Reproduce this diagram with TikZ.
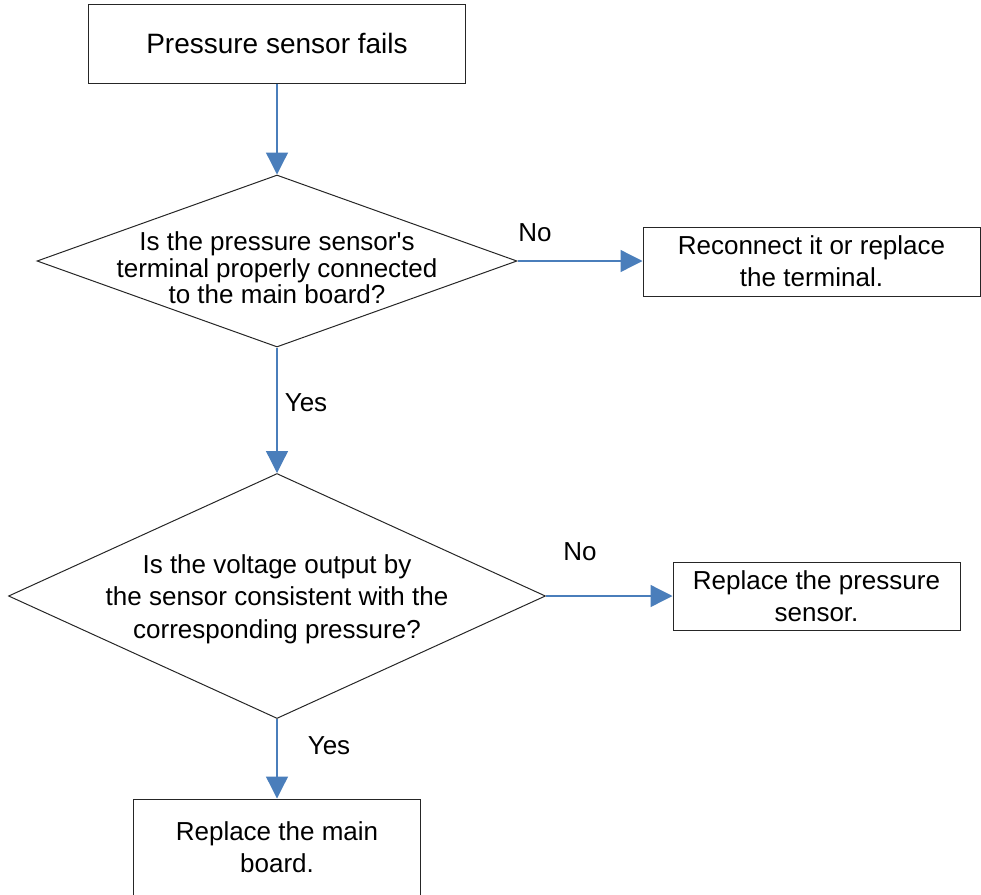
\documentclass[tikz,border=0pt]{standalone}
\usepackage{fontspec}
\setmainfont{Liberation Sans}
\usetikzlibrary{arrows.meta,shapes.geometric}
\definecolor{flowblue}{RGB}{74,126,187}

\begin{document}
\begin{tikzpicture}[x=1pt,y=-1pt,>={Triangle[length=22pt,width=22pt]},box/.style={draw=black!85, line width=1pt, align=center, inner sep=0pt, font=\fontsize{26}{32}\selectfont},decision/.style={diamond, draw=black!85, line width=1pt, inner sep=0pt},qtext/.style={align=center, inner sep=0pt},flow/.style={->, draw=flowblue, line width=1.3pt},answer/.style={font=\fontsize{26}{30}\selectfont, inner sep=0pt}]
\useasboundingbox (0,0) rectangle (981,894);
\node[box, minimum width=377, minimum height=79, font=\fontsize{28}{34}\selectfont] (start) at (277,43.5) {Pressure sensor fails};
\node[decision, minimum width=480, minimum height=172, label={[qtext, font=\fontsize{26}{26.5}\selectfont, yshift=-7pt]center:{Is the pressure sensor\textquotesingle s\\terminal properly connected\\to the main board?}}] (q1) at (277,261) {};
\node[box, minimum width=337, minimum height=69] (fix1) at (811.5,261.5) {Reconnect it or replace\\the terminal.};
\node[decision, minimum width=537, minimum height=245, label={[qtext, font=\fontsize{26}{32.5}\selectfont, yshift=-3pt]center:{Is the voltage output by\\the sensor consistent with the\\corresponding pressure?}}] (q2) at (277,596) {};
\node[box, minimum width=287, minimum height=68] (fix2) at (816.5,596) {Replace the pressure\\sensor.};
\node[box, minimum width=287, minimum height=97] (fix3) at (277,847.5) {Replace the main\\board.};
% answers on the branches
\node[answer] (no1) at (535,233) {No};\node[answer] (yes1) at (306,403) {Yes};
\node[answer] (no2) at (580,552) {No};\node[answer] (yes2) at (329,746) {Yes};
\draw[flow] (start) -- (q1);\draw[flow] (q1.east) -- (fix1.west |- q1.east);
\draw[flow] (q1) -- (q2);\draw[flow] (q2.east) -- (fix2.west |- q2.east);
\draw[flow] (q2) -- (fix3);
\end{tikzpicture}
\end{document}
